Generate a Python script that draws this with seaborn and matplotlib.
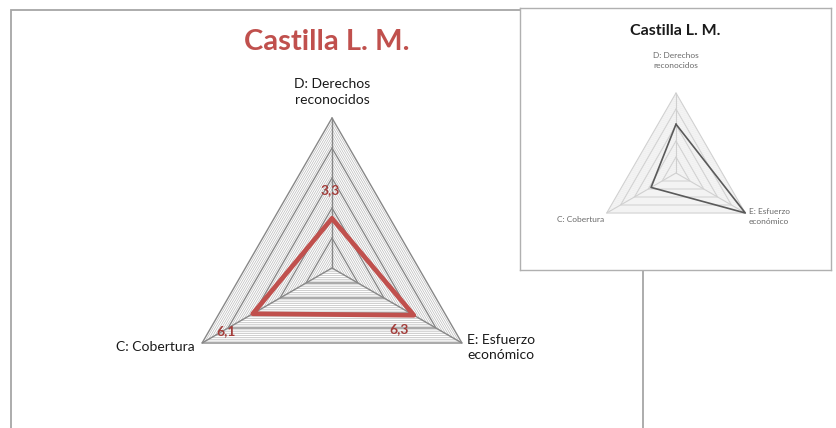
import numpy as np
import pandas as pd
import matplotlib
matplotlib.use("Agg")
import matplotlib.pyplot as plt
import matplotlib.patches as patches
import seaborn as sns

# data
categories = ["D: Derechos\nreconocidos", "E: Esfuerzo\neconómico", "C: Cobertura"]
values = [3.3, 6.3, 6.1]
value_labels = ["3,3", "6,3", "6,1"]
inset_values = [6.1, 10.0, 3.6]
axis_max = 10
major_step = 2
minor_step = 0.25
title = "Castilla L. M."

sns.set_theme(style="white")
plt.rcParams["font.family"] = ["Lato", "DejaVu Sans"]

angles = np.deg2rad([90, -30, 210])


def polygon(r):
    r = np.broadcast_to(np.asarray(r, dtype=float), angles.shape)
    x = np.append(r * np.cos(angles), r[0] * np.cos(angles[0]))
    y = np.append(r * np.sin(angles), r[0] * np.sin(angles[0]))
    return x, y


def draw_grid(ax, major_col, minor_col, spoke_col, major_lw, minor_lw):
    for r in np.arange(minor_step, axis_max + 1e-9, minor_step):
        if abs(r / major_step - round(r / major_step)) < 1e-6:
            continue
        x, y = polygon(r)
        ax.plot(x, y, color=minor_col, lw=minor_lw, zorder=1)
    for r in np.arange(major_step, axis_max + 1e-9, major_step):
        x, y = polygon(r)
        ax.plot(x, y, color=major_col, lw=major_lw, zorder=2)
    for a in angles:
        ax.plot([0, axis_max * np.cos(a)], [0, axis_max * np.sin(a)],
                color=spoke_col, lw=major_lw, zorder=2)


fig = plt.figure(figsize=(8.37, 4.28), dpi=100)

# main chart (15 px per unit, centre at pixel 332, 268)
ax = fig.add_axes([0, 0, 1, 1], zorder=0)
ax.set_xlim(-332 / 15, (837 - 332) / 15)
ax.set_ylim(-(428 - 268) / 15, 268 / 15)
ax.set_facecolor("white")
ax.axis("off")

draw_grid(ax, "#878787", "#bcbcbc", "#878787", 1.0, 0.5)

px, py = polygon(values)
df = pd.DataFrame({"x": px, "y": py})
sns.lineplot(data=df, x="x", y="y", sort=False, estimator=None,
             color="#c0504d", lw=3.4, ax=ax, zorder=3)

label_offsets = [(-1.5, 20.5), (-10.5, -10), (-19.5, -12.5)]
for xv, yv, lbl, off in zip(px[:-1], py[:-1], value_labels, label_offsets):
    ax.annotate(lbl, (xv, yv), xytext=off, textcoords="offset points",
                ha="center", va="center", fontsize=10, fontweight="bold",
                color="#a33d3a", zorder=4)

ax.text(0, 11.73, categories[0], ha="center", va="center", fontsize=10,
        color="#1a1a1a", linespacing=1.35)
ax.text(9.0, -5.3, categories[1], ha="left", va="center", fontsize=10,
        color="#1a1a1a", linespacing=1.35)
ax.text(-9.13, -5.27, categories[2], ha="right", va="center", fontsize=10,
        color="#1a1a1a")
ax.text(-0.33, 15.07, title, ha="center", va="center", fontsize=21,
        fontweight="bold", color="#c0504d")

# outer frame of main chart
frame = patches.Rectangle((11 / 837, -0.1), (643 - 11) / 837, 1.1 - 10 / 428,
                          transform=fig.transFigure, fill=False,
                          edgecolor="#a6a6a6", lw=1.3, zorder=1)
fig.add_artist(frame)

# inset screenshot chart (8 px per unit, centre at pixel 676, 173)
ins = fig.add_axes([520 / 837, (428 - 270) / 428, 311 / 837, 262 / 428], zorder=2)
ins.set_xlim((520 - 676) / 8, (831 - 676) / 8)
ins.set_ylim(-(270 - 173) / 8, (173 - 8) / 8)
ins.set_facecolor("white")
ins.set_xticks([])
ins.set_yticks([])
for s in ins.spines.values():
    s.set_color("#b0b0b0")
    s.set_linewidth(1.0)

draw_grid(ins, "#d0d0d0", "#e8e8e8", "#d0d0d0", 0.8, 0.4)

ix, iy = polygon(inset_values)
idf = pd.DataFrame({"x": ix, "y": iy})
sns.lineplot(data=idf, x="x", y="y", sort=False, estimator=None,
             color="#5a5a5a", lw=1.2, ax=ins, zorder=3)
ins.set_xlabel("")
ins.set_ylabel("")

ins.text(0, 14.0, categories[0], ha="center", va="center", fontsize=6,
         color="#6a6a6a", linespacing=1.5)
ins.text(9.1, -5.46, categories[1], ha="left", va="center", fontsize=6,
         color="#6a6a6a", linespacing=1.5)
ins.text(-9.0, -5.75, categories[2], ha="right", va="center", fontsize=6,
         color="#6a6a6a")
ins.text(-0.1, 17.8, title, ha="center", va="center", fontsize=11.5,
         fontweight="bold", color="#1a1a1a")

fig.savefig("out.png", dpi=100)
